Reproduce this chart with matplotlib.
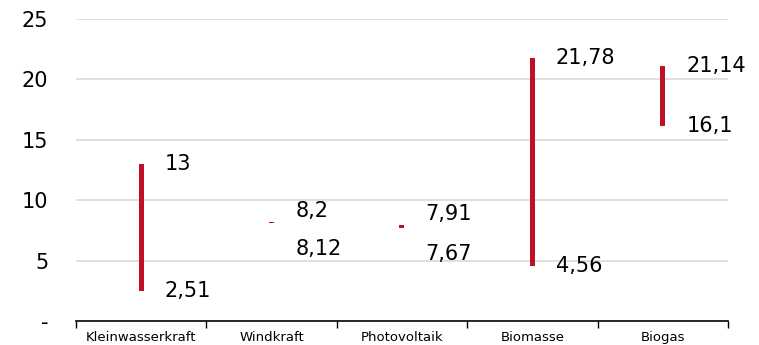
import matplotlib.pyplot as plt
import numpy as np

# Werte aus dem Diagramm (Spanne je Technologie)
kategorien = ['Kleinwasserkraft', 'Windkraft', 'Photovoltaik', 'Biomasse', 'Biogas']
min_werte = [2.51, 8.12, 7.67, 4.56, 16.1]
max_werte = [13, 8.2, 7.91, 21.78, 21.14]
min_labels = ['2,51', '8,12', '7,67', '4,56', '16,1']
max_labels = ['13', '8,2', '7,91', '21,78', '21,14']
y_ticks = [0, 5, 10, 15, 20, 25]
y_ticklabels = ['-', '5', '10', '15', '20', '25']

rot = '#BE1128'

fig = plt.figure(figsize=(7.59, 3.45), dpi=100)
ax = fig.add_axes([0.1001, 0.0696, 0.859, 0.8754])

x = np.arange(len(kategorien))
lo = np.array(min_werte)
hi = np.array(max_werte)
ax.bar(x, hi - lo, bottom=lo, width=0.038, color=rot, zorder=3)

for i in range(len(x)):
    # bei sehr kleiner Spanne die Beschriftungen auseinanderziehen
    if hi[i] - lo[i] < 1:
        off_hi, off_lo = 8, -18.5
    else:
        off_hi, off_lo = 0, 0
    ax.annotate(max_labels[i], (x[i], hi[i]), xytext=(17, off_hi),
                textcoords='offset points', ha='left', va='center', fontsize=15)
    ax.annotate(min_labels[i], (x[i], lo[i]), xytext=(17, off_lo),
                textcoords='offset points', ha='left', va='center', fontsize=15)

ax.set_xlim(-0.5, len(kategorien) - 0.5)
ax.set_ylim(0, 25)
ax.set_yticks(y_ticks)
ax.set_yticklabels(y_ticklabels, fontsize=15)
ax.tick_params(axis='y', length=0, pad=20)
for yv in y_ticks[1:]:
    ax.axhline(yv, color='#d9d9d9', lw=1.2, zorder=0)

ax.set_xticks(x)
ax.set_xticklabels(kategorien, fontsize=9.5)
ax.tick_params(axis='x', which='major', length=0, pad=7)
ax.set_xticks(np.arange(-0.5, len(kategorien)), minor=True)
ax.tick_params(axis='x', which='minor', length=5, width=1, direction='out')

for s in ['top', 'right', 'left']:
    ax.spines[s].set_visible(False)
ax.spines['bottom'].set_color('black')
ax.spines['bottom'].set_linewidth(1.2)

fig.savefig('out.png', dpi=100)
